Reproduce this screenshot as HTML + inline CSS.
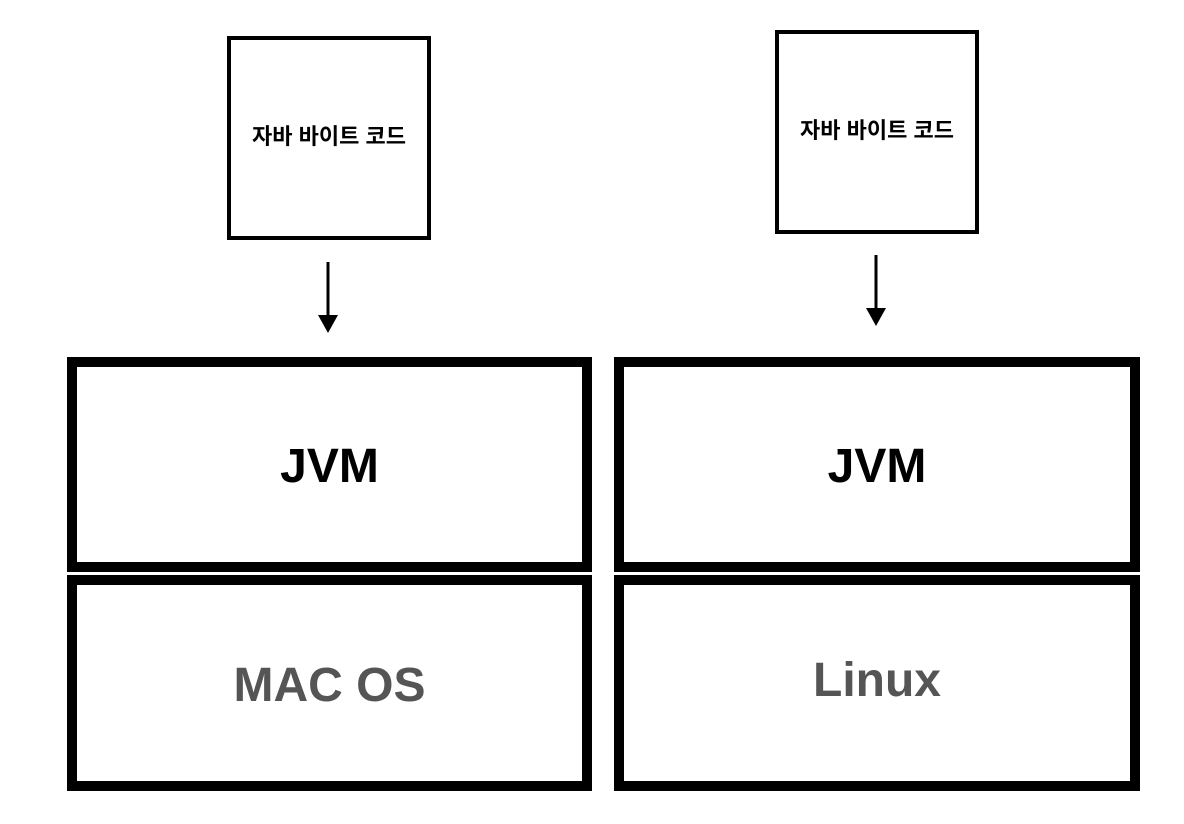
<!DOCTYPE html>
<html><head><meta charset="utf-8"><style>
body{margin:0;width:1184px;height:824px;background:#fff;position:relative;overflow:hidden;font-family:"Liberation Sans","Noto Sans CJK KR",sans-serif}
.b{position:absolute;box-sizing:border-box;display:flex;align-items:center;justify-content:center;font-weight:bold}
.s{border:4px solid #000;font-size:22px;color:#000}
.L{border:10px solid #000;font-size:48px}
.j{color:#000}.o{color:#555}
</style></head><body>
<div class="b s" style="left:227px;top:36px;width:204px;height:204px;padding-bottom:7px">자바 바이트 코드</div>
<div class="b s" style="left:775px;top:30px;width:204px;height:204px;padding-bottom:7px">자바 바이트 코드</div>
<svg style="position:absolute;left:0;top:0" width="1184" height="824">
<line x1="328" y1="262" x2="328" y2="318" stroke="#000" stroke-width="3"/>
<polygon points="318,315 338,315 328,333" fill="#000"/>
<line x1="876" y1="255" x2="876" y2="311" stroke="#000" stroke-width="3"/>
<polygon points="866,308 886,308 876,326" fill="#000"/>
</svg>
<div class="b L j" style="left:67px;top:357px;width:525px;height:215px;padding-top:4px">JVM</div>
<div class="b L o" style="left:67px;top:575px;width:525px;height:216px;padding-top:4px">MAC OS</div>
<div class="b L j" style="left:614px;top:357px;width:526px;height:215px;padding-top:4px">JVM</div>
<div class="b L o" style="left:614px;top:575px;width:526px;height:216px;padding-bottom:6px">Linux</div>
</body></html>
